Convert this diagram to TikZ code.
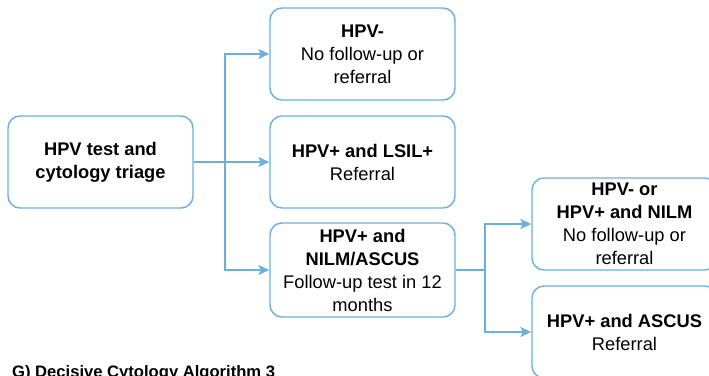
\documentclass[tikz,border=0pt]{standalone}
\usepackage{fontspec}
\setmainfont{Liberation Sans}
\usetikzlibrary{arrows.meta}
\definecolor{lineblue}{RGB}{108,174,221}
\tikzset{
  box/.style={draw=lineblue, line width=1.4pt, rounded corners=12pt, fill=white,
    minimum width=185pt, minimum height=92pt, inner sep=0pt, align=center,
    font=\fontsize{18.3}{23}\selectfont},
  conn/.style={draw=lineblue, line width=1.4pt},
  arr/.style={conn, -{Stealth[length=11pt,width=10pt,inset=2.5pt]}},
}
\begin{document}
\begin{tikzpicture}[x=1pt,y=-1pt]
\useasboundingbox (0,0) rectangle (709,375);
\clip (0,0) rectangle (709,375);
\node[box] (A) at (100.5,162) {\textbf{HPV test and}\\\textbf{cytology triage}};
\node[box] (B) at (362.5,54) {\textbf{HPV-}\\No follow-up or\\referral};
\node[box] (C) at (362.5,162) {\textbf{HPV+ and LSIL+}\\Referral};
\node[box, minimum height=94pt] (D) at (362.5,270) {\textbf{HPV+ and}\\\textbf{NILM/ASCUS}\\Follow-up test in 12\\months};
\node[box] (E) at (624.5,224) {\textbf{HPV- or}\\\textbf{HPV+ and NILM}\\No follow-up or\\referral};
\node[box] (F) at (624.5,332) {\textbf{HPV+ and ASCUS}\\Referral};
\node[anchor=base west, inner sep=0pt, font=\fontsize{16.6}{19}\selectfont\bfseries] (T) at (12,377) {G) Decisive Cytology Algorithm 3};
\coordinate (j1) at (225,162);
\coordinate (j2) at (485,270);
\draw[arr] (A.east) -- (C.west);
\draw[arr] (j1) |- (B.west);
\draw[arr] (j1) |- (D.west);
\draw[conn] (D.east) -- (j2);
\draw[arr] (j2) |- (E.west);
\draw[arr] (j2) |- (F.west);
\end{tikzpicture}
\end{document}
